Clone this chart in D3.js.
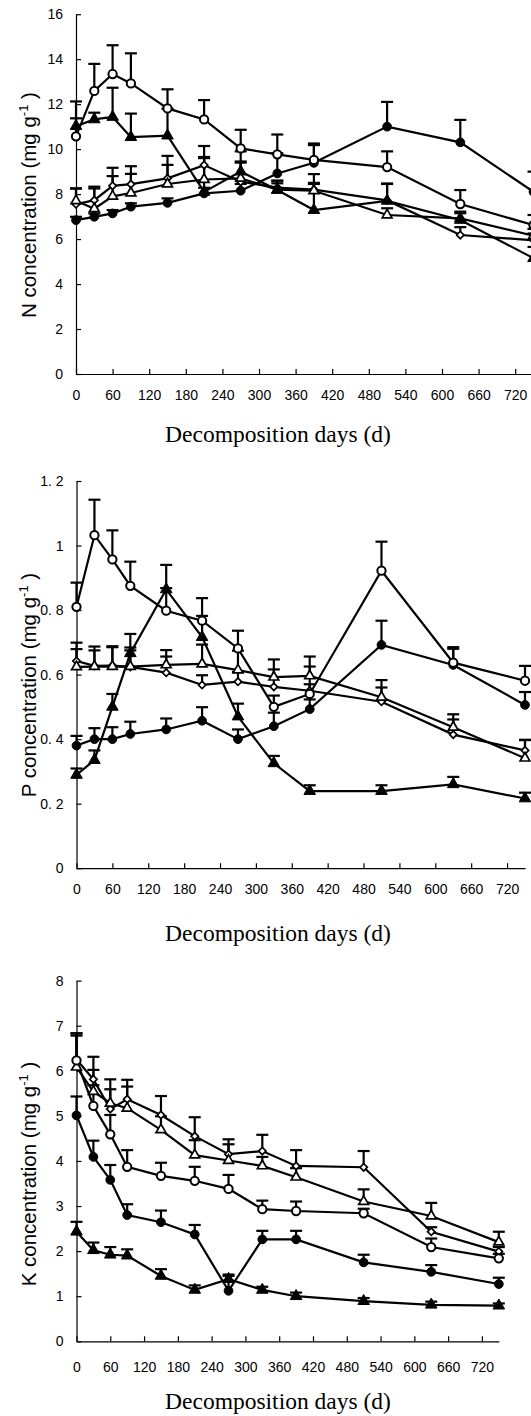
<!DOCTYPE html>
<html>
<head>
<meta charset="utf-8">
<script src="https://cdn.jsdelivr.net/npm/d3@7"></script>
<style>
body { margin: 0; background: #fff; }
svg { display: block; background: #fff; }
.axis text { font-family: "Liberation Sans", Arial, sans-serif; font-size: 14px; fill: #000; }
.axis path, .axis line { stroke: #000; stroke-width: 1.2; }
.ytitle { font-family: "Liberation Sans", Arial, sans-serif; font-size: 20.5px; fill: #000; }
.xtitle { font-family: "Liberation Serif", "Times New Roman", serif; font-size: 23.5px; fill: #000; }
</style>
</head>
<body>
<svg id="chart" width="531" height="1416"></svg>
<script>
// sampling days
const days = [0, 30, 60, 90, 150, 210, 270, 330, 390, 510, 630, 750];
const xTicks = [0, 60, 120, 180, 240, 300, 360, 420, 480, 540, 600, 660, 720];

// N concentration (mg g-1)
const nFilledCircle = [6.84, 6.99, 7.14, 7.44, 7.61, 8.03, 8.15, 8.92, 9.39, 11.0, 10.3, 8.1];
const nOpenCircle   = [10.57, 12.59, 13.34, 12.92, 11.81, 11.32, 10.03, 9.77, 9.52, 9.2, 7.56, 6.62];
const nFilledTri    = [11.02, 11.32, 11.43, 10.53, 10.6, 8.1, 9.0, 8.18, 7.29, 7.7, 6.85, 5.15];
const nOpenTri      = [7.7, 7.35, 7.9, 8.05, 8.45, 8.65, 8.7, 8.2, 8.15, 7.07, 6.92, 6.15];
const nDiamond      = [7.55, 7.73, 8.37, 8.44, 8.7, 9.29, 8.55, 8.29, 8.2, 7.72, 6.18, 5.95];
const nFilledCircleErr = [0.15, 0.15, 0.15, 0.15, 0.2, 0.25, 0.3, 0.9, 0.86, 1.1, 1.0, 0.9];
const nOpenCircleErr   = [0.8, 1.2, 1.28, 1.34, 0.85, 0.86, 0.83, 0.88, 0.66, 0.7, 0.62, 0.45];
const nFilledTriErr    = [1.1, 0.3, 1.3, 1.05, 1.2, 1.5, 0.9, 0.3, 1.6, 0.75, 0.3, 0.5];
const nOpenTriErr      = [0.55, 0.9, 0.9, 0.85, 0.85, 1.0, 0.7, 0.4, 0.3, 0.3, 0.3, 0.3];
const nDiamondErr      = [0.7, 0.6, 0.8, 0.8, 1.0, 0.85, 0.9, 0.3, 0.3, 0.75, 0.35, 0.3];

// P concentration (mg g-1)
const pFilledCircle = [0.38, 0.40, 0.40, 0.416, 0.43, 0.457, 0.40, 0.44, 0.493, 0.692, 0.63, 0.506];
const pOpenCircle   = [0.81, 1.032, 0.957, 0.875, 0.798, 0.767, 0.681, 0.50, 0.54, 0.922, 0.637, 0.581];
const pFilledTri    = [0.289, 0.335, 0.50, 0.666, 0.864, 0.716, 0.47, 0.325, 0.239, 0.239, 0.26, 0.216];
const pOpenTri      = [0.624, 0.625, 0.625, 0.625, 0.63, 0.633, 0.614, 0.592, 0.596, 0.53, 0.437, 0.341];
const pDiamond      = [0.642, 0.627, 0.628, 0.624, 0.606, 0.568, 0.578, 0.562, 0.55, 0.516, 0.414, 0.365];
const pFilledCircleErr = [0.03, 0.034, 0.037, 0.038, 0.034, 0.042, 0.03, 0.042, 0.03, 0.075, 0.05, 0.04];
const pOpenCircleErr   = [0.075, 0.11, 0.09, 0.075, 0.07, 0.07, 0.055, 0.035, 0.03, 0.09, 0.048, 0.046];
const pFilledTriErr    = [0.02, 0.03, 0.04, 0.06, 0.076, 0.066, 0.04, 0.023, 0.018, 0.018, 0.023, 0.018];
const pOpenTriErr      = [0.055, 0.05, 0.06, 0.05, 0.046, 0.06, 0.06, 0.055, 0.06, 0.053, 0.04, 0.057];
const pDiamondErr      = [0.057, 0.06, 0.06, 0.06, 0.05, 0.03, 0.03, 0.054, 0.075, 0.044, 0.047, 0.032];

// K concentration (mg g-1)
const kFilledCircle = [5.01, 4.09, 3.58, 2.8, 2.64, 2.37, 1.12, 2.26, 2.26, 1.75, 1.54, 1.27];
const kOpenCircle   = [6.23, 5.22, 4.59, 3.87, 3.67, 3.56, 3.38, 2.93, 2.89, 2.84, 2.09, 1.84];
const kFilledTri    = [2.43, 2.02, 1.92, 1.9, 1.45, 1.14, 1.38, 1.14, 1.0, 0.89, 0.81, 0.79];
const kOpenTri      = [6.08, 5.54, 5.28, 5.17, 4.69, 4.13, 4.01, 3.89, 3.64, 3.1, 2.78, 2.2];
const kDiamond      = [6.25, 5.81, 5.15, 5.37, 5.02, 4.55, 4.15, 4.22, 3.89, 3.86, 2.43, 1.99];
const kFilledCircleErr = [0.42, 0.36, 0.33, 0.24, 0.26, 0.21, 0.33, 0.19, 0.19, 0.17, 0.15, 0.14];
const kOpenCircleErr   = [0.55, 0.46, 0.43, 0.37, 0.29, 0.31, 0.31, 0.19, 0.21, 0.1, 0.19, 0.1];
const kFilledTriErr    = [0.22, 0.17, 0.17, 0.14, 0.15, 0.1, 0.1, 0.07, 0.08, 0.07, 0.07, 0.05];
const kOpenTriErr      = [0.75, 0.48, 0.31, 0.48, 0.3, 0.33, 0.36, 0.2, 0.2, 0.27, 0.29, 0.23];
const kDiamondErr      = [0.58, 0.5, 0.66, 0.43, 0.42, 0.42, 0.33, 0.36, 0.35, 0.36, 0.1, 0.1];

// panel frames (pixel layout only)
const panels = [
    { el: 'N', yMax: 16, yStep: 2, x0: 76, x1: 533.5, yTop: 14.2, yBot: 374, xPad: 16, titleY: 442, labelY: 205,
      series: [[nDiamond, nDiamondErr, 'diamond'], [nOpenTri, nOpenTriErr, 'openTri'], [nFilledTri, nFilledTriErr, 'filledTri'],
               [nFilledCircle, nFilledCircleErr, 'filledCircle'], [nOpenCircle, nOpenCircleErr, 'openCircle']] },
    { el: 'P', yMax: 1.2, yStep: 0.2, x0: 76.5, x1: 525, yTop: 481, yBot: 868.2, xPad: 16, titleY: 941, labelY: 685,
      series: [[pDiamond, pDiamondErr, 'diamond'], [pOpenTri, pOpenTriErr, 'openTri'], [pFilledTri, pFilledTriErr, 'filledTri'],
               [pFilledCircle, pFilledCircleErr, 'filledCircle'], [pOpenCircle, pOpenCircleErr, 'openCircle']] },
    { el: 'K', yMax: 8, yStep: 1, x0: 76.5, x1: 498.8, yTop: 980.6, yBot: 1341.3, xPad: 21, titleY: 1409, labelY: 1174,
      series: [[kDiamond, kDiamondErr, 'diamond'], [kOpenTri, kOpenTriErr, 'openTri'], [kFilledTri, kFilledTriErr, 'filledTri'],
               [kFilledCircle, kFilledCircleErr, 'filledCircle'], [kOpenCircle, kOpenCircleErr, 'openCircle']] }
];

const markers = {
    filledCircle: { type: d3.symbolCircle, size: 60, fill: '#000', sw: 1, rot: 0 },
    openCircle:   { type: d3.symbolCircle, size: 54, fill: '#fff', sw: 2, rot: 0 },
    filledTri:    { type: d3.symbolTriangle, size: 58, fill: '#000', sw: 1, rot: 0 },
    openTri:      { type: d3.symbolTriangle, size: 42, fill: '#fff', sw: 1.7, rot: 0 },
    diamond:      { type: d3.symbolSquare, size: 27, fill: '#fff', sw: 1.7, rot: 45 }
};

function pFormat(v) {
    if (Math.abs(v) < 1e-9) return '0';
    if (Math.abs(v - 1) < 1e-9) return '1';
    return d3.format('.1f')(v).replace('.', '. ');
}

let svg = d3.select('#chart');

panels.forEach(p => {
    let x = d3.scaleLinear().domain([0, 750]).range([p.x0, p.x1]);
    let y = d3.scaleLinear().domain([0, p.yMax]).range([p.yBot, p.yTop]);
    let g = svg.append('g');

    let yTicks = d3.range(0, p.yMax + p.yStep / 2, p.yStep);
    let axis_y = d3.axisLeft(y)
        .tickValues(yTicks)
        .tickSizeInner(-5)
        .tickSizeOuter(0)
        .tickPadding(13)
        .tickFormat(p.el === 'P' ? pFormat : d3.format('d'));
    g.append('g').attr('class', 'axis')
        .attr('transform', `translate(${p.x0},0)`)
        .call(axis_y);

    let axis_x = d3.axisBottom(x)
        .tickValues(xTicks)
        .tickSizeInner(-5)
        .tickSizeOuter(0)
        .tickPadding(p.xPad)
        .tickFormat(d3.format('d'));
    g.append('g').attr('class', 'axis')
        .attr('transform', `translate(0,${p.yBot})`)
        .call(axis_x);

    // axis titles
    let yt = g.append('text').attr('class', 'ytitle')
        .attr('text-anchor', 'middle')
        .attr('transform', `translate(36,${p.labelY}) rotate(-90)`);
    yt.append('tspan').text(p.el + ' concentration (mg g');
    yt.append('tspan').attr('dy', -8).attr('font-size', '13px').text('-1');
    yt.append('tspan').attr('dy', 8).text(' )');

    g.append('text').attr('class', 'xtitle')
        .attr('x', 278).attr('y', p.titleY)
        .attr('text-anchor', 'middle')
        .text('Decomposition days (d)');

    let line = d3.line().x((d, i) => x(days[i])).y(d => y(d));

    // lines
    p.series.forEach(s => {
        g.append('path').datum(s[0])
            .attr('d', line)
            .attr('fill', 'none')
            .attr('stroke', '#000')
            .attr('stroke-width', 2.2);
    });

    // error bars (upper only)
    p.series.forEach(s => {
        let eb = g.append('g').attr('stroke', '#000').attr('stroke-width', 2.2);
        s[0].forEach((v, i) => {
            let cx = x(days[i]);
            eb.append('line').attr('x1', cx).attr('x2', cx).attr('y1', y(v)).attr('y2', y(v + s[1][i]));
            eb.append('line').attr('x1', cx - 6).attr('x2', cx + 6).attr('y1', y(v + s[1][i])).attr('y2', y(v + s[1][i]));
        });
    });

    // markers
    p.series.forEach(s => {
        let m = markers[s[2]];
        let sym = d3.symbol().type(m.type).size(m.size);
        g.append('g').selectAll('path')
            .data(s[0])
            .enter().append('path')
            .attr('d', sym)
            .attr('transform', (d, i) => `translate(${x(days[i])},${y(d)}) rotate(${m.rot})`)
            .attr('fill', m.fill)
            .attr('stroke', '#000')
            .attr('stroke-width', m.sw);
    });
});
</script>
</body>
</html>
